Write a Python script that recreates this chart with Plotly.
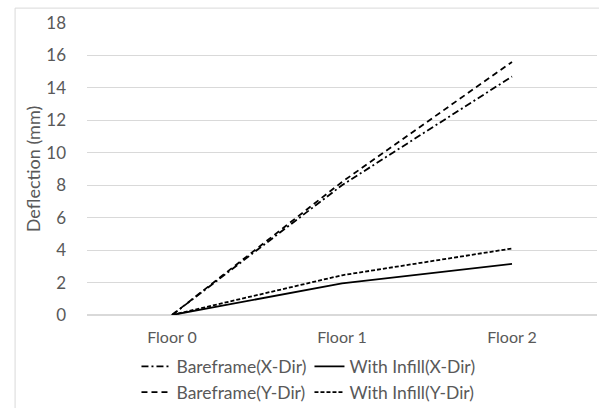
import plotly.graph_objects as go

floors = ["Floor 0", "Floor 1", "Floor 2"]
bare_x = [0, 8.0, 14.7]
infill_x = [0, 1.95, 3.15]
bare_y = [0, 8.2, 15.6]
infill_y = [0, 2.45, 4.1]

series = [
    ("Bareframe(X-Dir)", bare_x, "7px,3px,2px,3px", "legend"),
    ("With Infill(X-Dir)", infill_x, "solid", "legend"),
    ("Bareframe(Y-Dir)", bare_y, "6px,4px", "legend2"),
    ("With Infill(Y-Dir)", infill_y, "4px,2px", "legend2"),
]

fig = go.Figure()
for name, vals, dash, leg in series:
    fig.add_trace(go.Scatter(x=floors, y=vals, mode="lines", name=name, legend=leg,
                             line=dict(color="black", width=1.8, dash=dash)))

font = "Lato, 'Open Sans', sans-serif"
grey = "#595959"
leg_common = dict(orientation="h", x=0.097, xanchor="left", yanchor="top",
                  entrywidth=128, entrywidthmode="pixels", itemwidth=30,
                  font=dict(size=17.5, color=grey), tracegroupgap=0,
                  bgcolor="rgba(0,0,0,0)")
fig.update_layout(
    width=599, height=408,
    margin=dict(l=87, r=2, t=23, b=93, autoexpand=False),
    paper_bgcolor="white", plot_bgcolor="white",
    font=dict(family=font, size=15, color=grey),
    xaxis=dict(type="category", range=[-0.5, 2.5], showgrid=False, showline=False,
               zeroline=False, ticks="", ticklabelstandoff=11,
               tickfont=dict(size=16, color=grey)),
    yaxis=dict(range=[0, 18], dtick=2, showgrid=True, gridcolor="#d9d9d9", gridwidth=1,
               zeroline=True, zerolinecolor="#d9d9d9", showline=False, ticks="",
               ticklabelstandoff=20,
               title=dict(text="Deflection (mm)", font=dict(size=18, color=grey), standoff=0),
               tickfont=dict(size=17, color=grey)),
    legend=dict(y=-0.115, **leg_common),
    legend2=dict(y=-0.203, **leg_common),
    shapes=[dict(type="rect", xref="paper", yref="paper", x0=-0.141, x1=1.2,
                 y0=-0.5, y1=1.051, line=dict(color="#d9d9d9", width=1), layer="below")],
)

fig.write_html("out.html")
